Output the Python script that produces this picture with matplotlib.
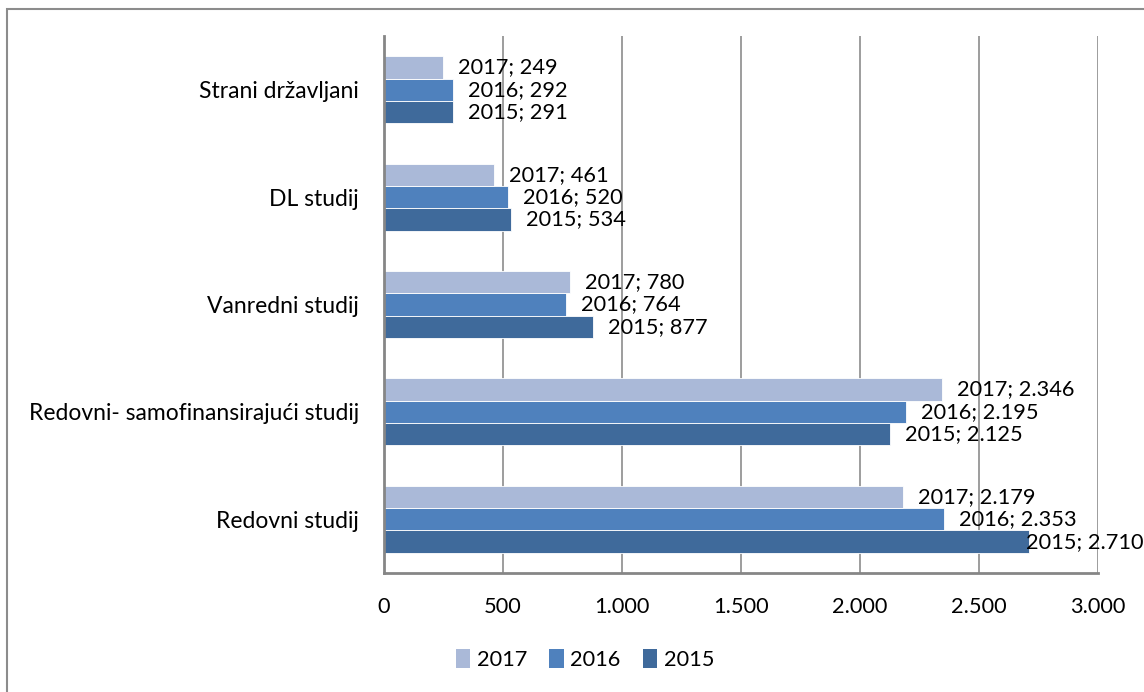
import matplotlib
matplotlib.use("Agg")
import matplotlib.pyplot as plt
from matplotlib.ticker import FuncFormatter, MultipleLocator
from matplotlib.patches import Rectangle
import numpy as np

categories = ["Redovni studij", "Redovni- samofinansirajući studij", "Vanredni studij",
              "DL studij", "Strani državljani"]
years = ["2015", "2016", "2017"]
values_2015 = [2710, 2125, 877, 534, 291]
values_2016 = [2353, 2195, 764, 520, 292]
values_2017 = [2179, 2346, 780, 461, 249]
colors = {"2015": "#3F6A9B", "2016": "#4F81BD", "2017": "#AAB9D8"}

series = {"2015": values_2015, "2016": values_2016, "2017": values_2017}

plt.rcParams['font.family'] = ['Lato', 'DejaVu Sans']
FS = 15.7

W, H = 1144, 692
fig = plt.figure(figsize=(W / 100, H / 100), dpi=100)
ax = fig.add_axes([384 / W, 1 - 573 / H, (1098 - 384) / W, (573 - 36) / H])

# figure border
fig.patches.append(Rectangle((7 / W, -0.2), 1.3, 1.2 - 9 / H, transform=fig.transFigure,
                             fill=False, edgecolor="#8C8C8C", linewidth=1.5))

y = np.arange(len(categories))
bh = 0.2077
offsets = {"2015": -bh, "2016": 0.0, "2017": bh}
fmt = lambda v: f"{v:,.0f}".replace(",", ".")

labels = []
for yr in years:
    vals = series[yr]
    ax.barh(y + offsets[yr], vals, height=bh, color=colors[yr], edgecolor="white",
            linewidth=0.6, label=yr, zorder=3)
    for yi, v in zip(y, vals):
        a = ax.annotate(f"{yr}; {fmt(v)}", xy=(v, yi + offsets[yr]), xytext=(10.8, 0),
                        textcoords="offset points", ha="left", va="center",
                        fontsize=FS, color="black", zorder=5, annotation_clip=False)
        labels.append(a)

ax.set_xlim(0, 3000)
ax.set_ylim(-0.5, len(categories) - 0.5)
ax.xaxis.set_major_locator(MultipleLocator(500))
ax.xaxis.set_major_formatter(FuncFormatter(lambda v, p: fmt(v)))
ax.set_yticks(y)
ax.set_yticklabels(categories, fontsize=16.5)
ax.tick_params(axis="both", length=0, colors="black")
ax.tick_params(axis="x", pad=17, labelsize=FS)
ax.tick_params(axis="y", pad=18)

ax.grid(axis="x", color="#8C8C8C", linewidth=1.2, zorder=0)
ax.set_axisbelow(True)
for s in ["top", "right"]:
    ax.spines[s].set_visible(False)
for s in ["left", "bottom"]:
    ax.spines[s].set_color("#868686")
    ax.spines[s].set_linewidth(2)
    ax.spines[s].set_zorder(4)

handles, lbls = ax.get_legend_handles_labels()
order = [lbls.index(l) for l in ["2017", "2016", "2015"]]
leg = fig.legend([handles[i] for i in order], [lbls[i] for i in order],
                 loc="center", bbox_to_anchor=(585 / W, 1 - 660 / H), ncol=3,
                 frameon=False, fontsize=FS, handlelength=0.68, handleheight=0.68,
                 handletextpad=0.3, columnspacing=1.0)
for p in leg.get_patches():
    p.set_linewidth(0)
    p.set_height(p.get_height() * 1.25)
    p.set_y(p.get_y() - p.get_height() * 0.1)

# keep labels inside the figure, like the source chart does
fig.canvas.draw()
r = fig.canvas.get_renderer()
for a in labels:
    bb = a.get_window_extent(r)
    if bb.x1 > W - 1:
        shift = (bb.x1 - (W - 1)) * 72 / 100
        ox, oy = a.xyann
        a.xyann = (ox - shift, oy)

fig.savefig("out.png", dpi=100)
